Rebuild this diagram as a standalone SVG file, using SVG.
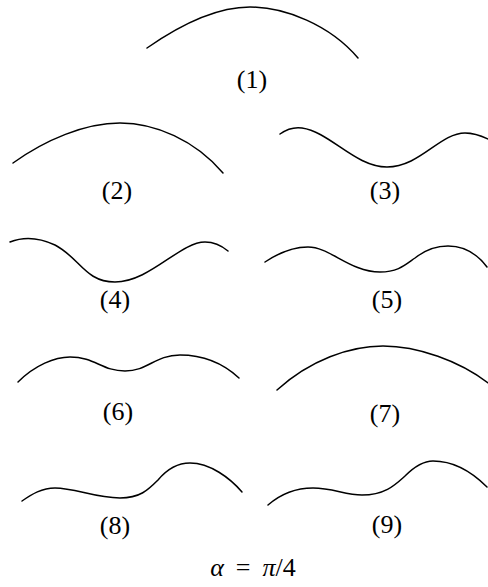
<svg xmlns="http://www.w3.org/2000/svg" width="488" height="587" viewBox="0 0 488 587">
<style>
.c{fill:none;stroke:#000;stroke-width:1.5;stroke-linecap:round}
.t{font-family:"Liberation Serif","DejaVu Serif",serif;font-size:26px;text-anchor:middle;fill:#000}
.i{font-style:italic}
</style>
<rect width="488" height="587" fill="#fff"/>
<g id="p1"><path class="c" d="M147,48 C180,25 215,7 250,7 S330,25 358,58"/><text class="t" x="252" y="88">(1)</text></g>
<g id="p2"><path class="c" d="M13,163 C45,140 85,123 120,123 S195,140 223,173"/><text class="t" x="117" y="199">(2)</text></g>
<g id="p3"><path class="c" d="M280,134 C287,129 295,127 302,128 C330,132 355,167 387,167 C420,167 440,133 465,133 C475,133 482,136 490,140"/><text class="t" x="385" y="199">(3)</text></g>
<g id="p4"><path class="c" d="M10,242 C25,236 40,238 55,245 C80,258 85,282 115,282 C150,282 180,242 205,242 C215,242 222,246 228,251"/><text class="t" x="115" y="308">(4)</text></g>
<g id="p5"><path class="c" d="M265,262 C280,252 295,247 308,247 C330,247 350,272 380,272 C398,272 405,265 415,258 C425,250 437,246 448,246 C465,246 478,255 487,267"/><text class="t" x="387" y="308">(5)</text></g>
<g id="p6"><path class="c" d="M18,382 C35,365 55,357 70,357 C95,357 102,371 125,371 C148,371 155,355 180,355 C205,355 225,365 239,378"/><text class="t" x="118" y="420">(6)</text></g>
<g id="p7"><path class="c" d="M277,390 C310,360 350,346 383,346 S460,360 492,386"/><text class="t" x="385" y="422">(7)</text></g>
<g id="p8"><path class="c" d="M22,501 C32,494 42,488 55,488 C75,488 95,498 120,498 C140,498 148,490 158,480 C168,468 178,463 190,463 C210,463 230,478 242,492"/><text class="t" x="115" y="534">(8)</text></g>
<g id="p9"><path class="c" d="M268,505 C283,492 298,488 313,488 C333,488 345,495 362,495 C385,495 395,485 405,476 C415,466 423,461 433,461 C455,461 472,472 487,487"/><text class="t" x="387" y="533">(9)</text></g>
<text class="t" x="253" y="576"><tspan class="i">α</tspan><tspan dx="12">=</tspan><tspan dx="12" class="i">π</tspan>/4</text>
</svg>
